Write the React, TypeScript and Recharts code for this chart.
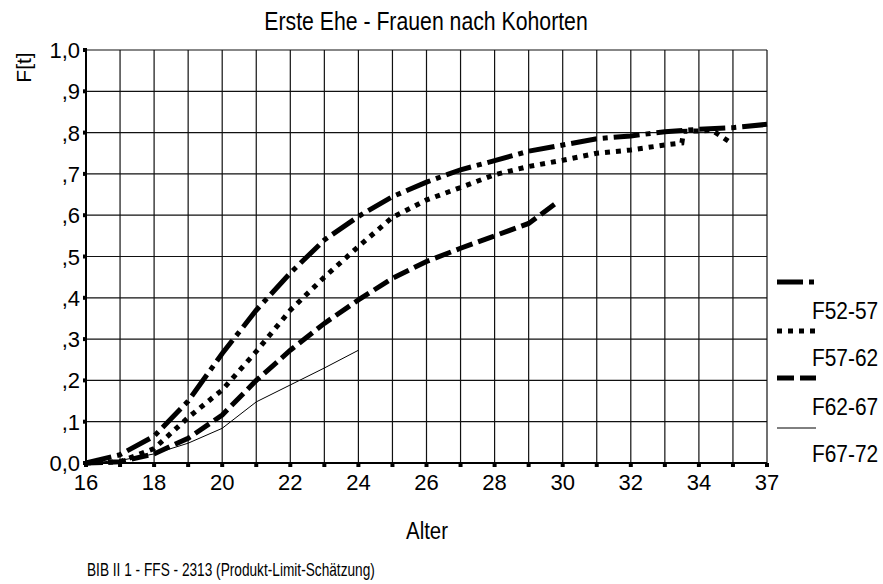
import { LineChart, Line, XAxis, YAxis, CartesianGrid } from "recharts";

const FONT = '"Liberation Sans", Arial, sans-serif';

// axis ticks (x axis runs in position units, the last gridline is labelled 37)
const xTicks = [16, 17, 18, 19, 20, 21, 22, 23, 24, 25, 26, 27, 28, 29, 30, 31, 32, 33, 34, 35, 36];
const xTickLabels = ["16", "", "18", "", "20", "", "22", "", "24", "", "26", "", "28", "", "30", "", "32", "", "34", "", "37"];
const yTicks = [0, 0.1, 0.2, 0.3, 0.4, 0.5, 0.6, 0.7, 0.8, 0.9, 1];
const yTickLabels = ["0,0", ",1", ",2", ",3", ",4", ",5", ",6", ",7", ",8", ",9", "1,0"];

// cumulative share of first marriages per birth cohort
const ageF5257 = [16, 17, 18, 19, 20, 21, 22, 23, 24, 25, 26, 27, 28, 29, 30, 31, 32, 33, 34, 35, 36];
const valF5257 = [0, 0.02, 0.065, 0.15, 0.265, 0.37, 0.46, 0.54, 0.597, 0.645, 0.68, 0.71, 0.732, 0.755, 0.77, 0.785, 0.792, 0.802, 0.808, 0.812, 0.82];

const ageF5762 = [16, 17, 18, 19, 20, 21, 22, 23, 24, 25, 26, 27, 28, 29, 30, 31, 32, 33, 33.5, 33.55, 34.4, 35];
const valF5762 = [0, 0.003, 0.035, 0.11, 0.177, 0.27, 0.37, 0.45, 0.524, 0.595, 0.637, 0.667, 0.698, 0.718, 0.733, 0.75, 0.758, 0.77, 0.775, 0.803, 0.805, 0.772];

const ageF6267 = [16, 17, 18, 19, 20, 21, 22, 23, 24, 25, 26, 27, 28, 29, 29.9];
const valF6267 = [0, 0.003, 0.022, 0.06, 0.116, 0.2, 0.273, 0.338, 0.395, 0.447, 0.488, 0.52, 0.55, 0.58, 0.635];

const ageF6772 = [16, 17, 18, 19, 20, 21, 22, 23, 24];
const valF6772 = [0, 0.006, 0.022, 0.048, 0.084, 0.148, 0.189, 0.23, 0.273];

const toPoints = (ages: number[], values: number[]) =>
  ages.map((x, i) => ({ x, y: values[i] }));

const cohorts = [
  { name: "F52-57", data: toPoints(ageF5257, valF5257), width: 5, dash: "26 6 5 6" },
  { name: "F57-62", data: toPoints(ageF5762, valF5762), width: 5, dash: "5 6" },
  { name: "F62-67", data: toPoints(ageF6267, valF6267), width: 5, dash: "17 6" },
  { name: "F67-72", data: toPoints(ageF6772, valF6772), width: 1, dash: undefined },
];

// horizontally squeezed text, the chart uses a narrow sans face
function NarrowText({ x, y, size, sx, anchor = "start", children }: any) {
  return (
    <text
      transform={`translate(${x} ${y}) scale(${sx} 1)`}
      fontSize={size}
      fontFamily={FONT}
      textAnchor={anchor}
      fill="#000"
    >
      {children}
    </text>
  );
}

// x tick: small square mark under the axis plus the label
function AgeTick({ x, y, index }: any) {
  const axisY = y - 12;
  return (
    <g>
      <rect x={x - 2} y={axisY} width={4} height={4} fill="#000" />
      <text x={x} y={y + 15} fontSize={22} fontFamily={FONT} textAnchor="middle" fill="#000">
        {xTickLabels[index]}
      </text>
    </g>
  );
}

function ShareTick({ x, y, index }: any) {
  return (
    <g>
      <rect x={x + 3} y={y - 2} width={4} height={4} fill="#000" />
      <text x={x} y={y + 8} fontSize={22} fontFamily={FONT} textAnchor="end" fill="#000">
        {yTickLabels[index]}
      </text>
    </g>
  );
}

const legendRows = [
  { lineY: 282, labelY: 319 },
  { lineY: 331, labelY: 366 },
  { lineY: 378, labelY: 415 },
  { lineY: 428, labelY: 462 },
];

export default function App() {
  return (
    <div style={{ position: "absolute", left: 0, top: 0, width: 883, height: 584, background: "#fff" }}>
      <LineChart
        width={883}
        height={584}
        margin={{ top: 50, right: 116, bottom: 91, left: 0 }}
      >
        <CartesianGrid stroke="#111" strokeWidth={1.2} />
        <XAxis
          type="number"
          dataKey="x"
          domain={[16, 36]}
          ticks={xTicks}
          interval={0}
          height={30}
          tickSize={4}
          tickMargin={8}
          tick={<AgeTick />}
          tickLine={false}
          axisLine={{ stroke: "#000", strokeWidth: 2 }}
        />
        <YAxis
          type="number"
          domain={[0, 1]}
          ticks={yTicks}
          interval={0}
          width={86}
          tickSize={4}
          tickMargin={2}
          tick={<ShareTick />}
          tickLine={false}
          axisLine={{ stroke: "#000", strokeWidth: 2 }}
        />
        {cohorts.map((c) => (
          <Line
            key={c.name}
            name={c.name}
            data={c.data}
            dataKey="y"
            type="linear"
            stroke="#000"
            strokeWidth={c.width}
            strokeDasharray={c.dash}
            strokeLinecap="butt"
            dot={false}
            activeDot={false}
            isAnimationActive={false}
          />
        ))}
      </LineChart>

      <svg
        width={883}
        height={584}
        style={{ position: "absolute", left: 0, top: 0, pointerEvents: "none" }}
      >
        <NarrowText x={426} y={30} size={25} sx={0.85} anchor="middle">
          Erste Ehe - Frauen nach Kohorten
        </NarrowText>
        <text
          transform="translate(31 67.5) rotate(-90)"
          fontSize={21}
          fontFamily={FONT}
          textAnchor="middle"
          fill="#000"
        >
          F[t]
        </text>
        <NarrowText x={427} y={539} size={24} sx={0.85} anchor="middle">
          Alter
        </NarrowText>
        <NarrowText x={87} y={576} size={18} sx={0.76}>
          BIB II 1 - FFS - 2313 (Produkt-Limit-Schätzung)
        </NarrowText>

        {cohorts.map((c, i) => (
          <g key={c.name}>
            <line
              x1={777}
              x2={816}
              y1={legendRows[i].lineY}
              y2={legendRows[i].lineY}
              stroke="#000"
              strokeWidth={c.width}
              strokeDasharray={c.dash}
            />
            <NarrowText x={812} y={legendRows[i].labelY} size={24} sx={0.87}>
              {c.name}
            </NarrowText>
          </g>
        ))}
      </svg>
    </div>
  );
}
